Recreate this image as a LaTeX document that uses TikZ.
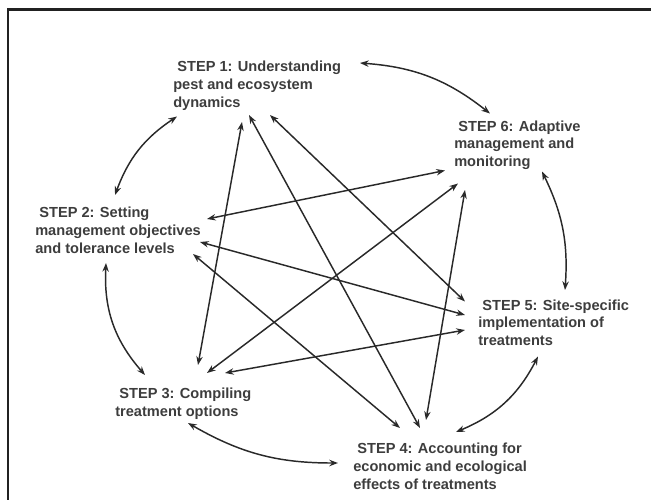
\documentclass[tikz,border=0pt]{standalone}
\usepackage{fontspec}
\setmainfont{Liberation Sans}
\usepackage{tikz}
\usetikzlibrary{arrows.meta}
\definecolor{tinta}{rgb}{0.16,0.16,0.16}
\definecolor{letra}{rgb}{0.24,0.24,0.24}
\definecolor{marco}{rgb}{0.13,0.13,0.13}
\tikzset{
  etapa/.style={
    anchor=north west,
    align=left,
    inner sep=0pt,
    text=letra,
    font=\fontsize{10.95}{13.2}\selectfont\bfseries
  },
  doble/.style={
    {Stealth[length=6.5pt,width=4.8pt]}-{Stealth[length=6.5pt,width=4.8pt]},
    line width=1.1pt,
    tinta
  }
}
\begin{document}
\begin{tikzpicture}[x=0.75pt,y=-0.75pt]
\useasboundingbox (0,0) rectangle (651,500);
\draw[marco,line width=1.9pt] (8,500) |- (651,9.5);
% the six steps
\node[etapa] (s1) at (173,61) {\hspace{.28em}STEP 1: Understanding\\pest and ecosystem\\dynamics};
\node[etapa] (s2) at (35,207) {\hspace{.28em}STEP 2: Setting\\management objectives\\and tolerance levels};
\node[etapa] (s3) at (115,388) {\hspace{.28em}STEP 3: Compiling\\treatment options};
\node[etapa] (s4) at (353,443) {\hspace{.28em}STEP 4: Accounting for\\economic and ecological\\effects of treatments};
\node[etapa] (s5) at (478,299.5) {\hspace{.28em}STEP 5: Site-specific\\implementation of\\treatments};
\node[etapa] (s6) at (454,120.5) {\hspace{.28em}STEP 6: Adaptive\\management and\\monitoring};
% straight links
\draw[doble] ([shift={(69,61)}]s1.north west) -- ([shift={(83,-23)}]s3.north west);
\draw[doble] ([shift={(76,54)}]s1.north west) -- ([shift={(67,-15)}]s4.north west);
\draw[doble] ([shift={(97,54)}]s1.north west) -- ([shift={(-13,2)}]s5.north west);
\draw[doble] ([shift={(172,12)}]s2.north west) -- ([shift={(-9,50)}]s6.north west);
\draw[doble] ([shift={(165,35)}]s2.north west) -- ([shift={(-13,15.5)}]s5.north west);
\draw[doble] ([shift={(158,47)}]s2.north west) -- ([shift={(47,-15)}]s4.north west);
\draw[doble] ([shift={(92,-15)}]s3.north west) -- ([shift={(4,63)}]s6.north west);
\draw[doble] ([shift={(110,-15)}]s3.north west) -- ([shift={(-13,30.5)}]s5.north west);
\draw[doble] ([shift={(11,69.5)}]s6.north west) -- ([shift={(73,-23)}]s4.north west);
% round the circle
\draw[doble] ([shift={(187,2)}]s1.north west) to[bend left=17] ([shift={(36,-7)}]s6.north west);
\draw[doble] ([shift={(4,55.5)}]s1.north west) to[bend right=18] ([shift={(80,-12)}]s2.north west);
\draw[doble] ([shift={(88,51)}]s6.north west) to[bend left=15] ([shift={(87,-9.5)}]s5.north west);
\draw[doble] ([shift={(71,56)}]s2.north west) to[bend right=22] ([shift={(30,-13)}]s3.north west);
\draw[doble] ([shift={(60,57)}]s5.north west) to[bend left=20] ([shift={(103,-11)}]s4.north west);
\draw[doble] ([shift={(73,35)}]s3.north west) to[bend right=15] ([shift={(-15,20)}]s4.north west);
\end{tikzpicture}
\end{document}
